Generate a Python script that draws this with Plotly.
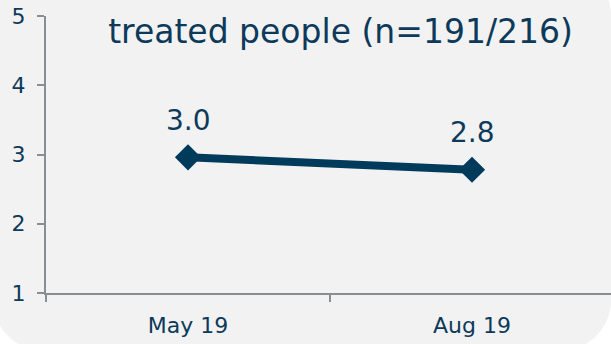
import plotly.graph_objects as go

# Survey rounds and mean scores for treated people
periods = ["May 19", "Aug 19"]
scores = [2.96, 2.78]
title_text = "treated people (n=191/216)"
y_ticks = [1, 2, 3, 4, 5]

W, H = 611, 344
M_L, M_R, M_T, M_B = 46, 0, 16, 51
PLOT_W = W - M_L - M_R
PLOT_H = H - M_T - M_B

NAVY = "#003b5c"
TEXT = "#0d3a5a"
AXIS = "#8a8d92"
PANEL = "#f2f2f2"
FONT = "DejaVu Sans"


def px_x(x):
    return (x - M_L) / PLOT_W


def px_y(y):
    return (H - M_B - y) / PLOT_H


def rounded_panel(left, top, right, bottom, r):
    k = 0.5523 * r
    pts = [
        ("M", [(left + r, top)]),
        ("L", [(right - r, top)]),
        ("C", [(right - r + k, top), (right, top + r - k), (right, top + r)]),
        ("L", [(right, bottom - r)]),
        ("C", [(right, bottom - r + k), (right - r + k, bottom), (right - r, bottom)]),
        ("L", [(left + r, bottom)]),
        ("C", [(left + r - k, bottom), (left, bottom - r + k), (left, bottom - r)]),
        ("L", [(left, top + r)]),
        ("C", [(left, top + r - k), (left + r - k, top), (left + r, top)]),
    ]
    parts = []
    for cmd, coords in pts:
        parts.append(cmd + " ".join(f"{px_x(x):.5f},{px_y(y):.5f}" for x, y in coords))
    return " ".join(parts) + " Z"


fig = go.Figure()
fig.add_trace(go.Scatter(
    x=periods,
    y=scores,
    mode="lines+markers",
    line=dict(color=NAVY, width=8),
    marker=dict(symbol="diamond", size=18, color=NAVY,
                line=dict(color=NAVY, width=2)),
    hoverinfo="skip",
    showlegend=False,
))

for p, v in zip(periods, scores):
    fig.add_annotation(
        x=p, y=v, text=f"{v:.1f}", showarrow=False,
        yshift=37, font=dict(family=FONT, size=28, color=TEXT),
    )

fig.add_shape(
    type="path", xref="paper", yref="paper", layer="below",
    path=rounded_panel(-7, -35, 611, 351, 51),
    fillcolor=PANEL, line=dict(width=0),
)

fig.update_layout(
    width=W, height=H,
    margin=dict(l=M_L, r=M_R, t=M_T, b=M_B, pad=0),
    paper_bgcolor="white",
    plot_bgcolor="rgba(0,0,0,0)",
    font=dict(family=FONT, color=TEXT),
    title=dict(
        text=title_text, xref="container", yref="container",
        x=340.5 / W, xanchor="center", y=1 - 31 / H, yanchor="middle",
        font=dict(family=FONT, size=33, color=TEXT),
    ),
    xaxis=dict(
        type="category", range=[-0.5, -0.5 + PLOT_W / 284],
        showline=True, linecolor=AXIS, linewidth=2,
        ticks="outside", tickson="boundaries", ticklen=7,
        tickwidth=2, tickcolor=AXIS, showgrid=False,
        tickfont=dict(family=FONT, size=22, color=TEXT),
        ticklabelstandoff=12,
    ),
    yaxis=dict(
        range=[1, 5], tickvals=y_ticks,
        showline=True, linecolor=AXIS, linewidth=2,
        ticks="outside", ticklen=7, tickwidth=2, tickcolor=AXIS,
        showgrid=False, zeroline=False,
        tickfont=dict(family=FONT, size=22, color=TEXT),
        ticklabelstandoff=7,
    ),
)

fig.write_html("out.html")
